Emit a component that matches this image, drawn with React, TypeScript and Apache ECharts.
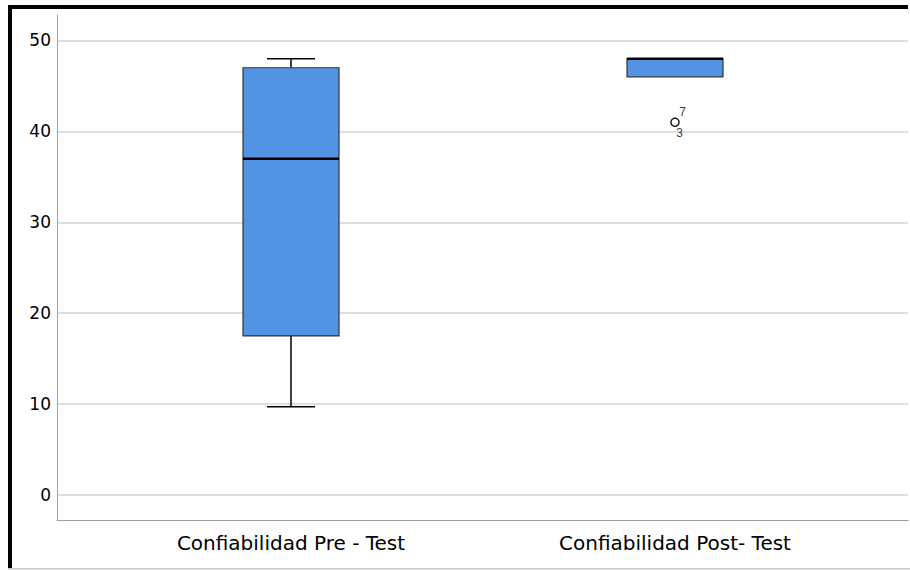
import React, { useEffect, useRef } from "react";
import * as echarts from "echarts";

const categories = ["Confiabilidad Pre - Test", "Confiabilidad Post- Test"];
// [low whisker, Q1, median, Q3, high whisker]
const boxValues = [
  [9.7, 17.5, 37, 47, 48],
  [46, 46, 48, 48, 48],
];
// outliers: [category index, value, case label]
const outliers: [number, number, string][] = [
  [1, 41, "7"],
  [1, 41, "3"],
];
const yMin = -2.75;
const yMax = 52.8;

export default function App() {
  const ref = useRef<HTMLDivElement>(null);
  useEffect(() => {
    if (!ref.current) return;
    const chart = echarts.init(ref.current, null, { renderer: "svg" });
    const boxData = boxValues.map((v, i) => [i, ...v]);
    const option = {
      animation: false,
      backgroundColor: "#ffffff",
      grid: [
        { left: 57, right: 2, top: 15, bottom: 50 },
        { left: 99, right: 43, top: 15, bottom: 50 },
      ],
      xAxis: [
        {
          type: "value",
          gridIndex: 0,
          min: 0,
          max: 1,
          axisLine: { show: true, onZero: false, lineStyle: { color: "#a0a0a0", width: 1 } },
          axisTick: { show: false },
          axisLabel: { show: false },
          splitLine: { show: false },
        },
        {
          type: "category",
          gridIndex: 1,
          data: categories,
          axisLine: { show: false },
          axisTick: { show: false },
          axisLabel: {
            show: true,
            margin: 13,
            color: "#000",
            fontFamily: "DejaVu Sans",
            fontSize: 20,
          },
          splitLine: { show: false },
        },
      ],
      yAxis: [
        {
          type: "value",
          gridIndex: 0,
          min: yMin,
          max: yMax,
          axisLine: { show: true, onZero: false, lineStyle: { color: "#a0a0a0", width: 1 } },
          axisTick: { show: false },
          axisLabel: {
            show: true,
            showMinLabel: false,
            showMaxLabel: false,
            margin: 6,
            color: "#000",
            fontFamily: "DejaVu Sans",
            fontSize: 17,
            formatter: (v: number) => (Math.abs(v % 10) < 1e-6 ? String(v) : ""),
          },
          splitLine: {
            show: true,
            showMinLine: false,
            showMaxLine: false,
            lineStyle: { color: "#d4d4d4", width: 1.5 },
          },
        },
        {
          type: "value",
          gridIndex: 1,
          min: yMin,
          max: yMax,
          show: false,
          splitLine: { show: false },
        },
      ],
      series: [
        {
          type: "custom",
          xAxisIndex: 1,
          yAxisIndex: 1,
          data: boxData,
          encode: { x: 0, y: [1, 2, 3, 4, 5] },
          renderItem: (params: any, api: any) => {
            const x = api.value(0);
            const low = api.coord([x, api.value(1)]);
            const q1 = api.coord([x, api.value(2)]);
            const med = api.coord([x, api.value(3)]);
            const q3 = api.coord([x, api.value(4)]);
            const high = api.coord([x, api.value(5)]);
            const band = api.size([1, 0])[0];
            const bw = band * 0.25;
            const cw = bw * 0.5;
            const cx = low[0];
            const line = { stroke: "#000", lineWidth: 1.5 };
            const children: any[] = [];
            if (Math.abs(q3[1] - high[1]) > 0.5) {
              children.push(
                { type: "line", shape: { x1: cx, y1: q3[1], x2: cx, y2: high[1] }, style: line },
                { type: "line", shape: { x1: cx - cw / 2, y1: high[1], x2: cx + cw / 2, y2: high[1] }, style: line }
              );
            }
            if (Math.abs(q1[1] - low[1]) > 0.5) {
              children.push(
                { type: "line", shape: { x1: cx, y1: q1[1], x2: cx, y2: low[1] }, style: line },
                { type: "line", shape: { x1: cx - cw / 2, y1: low[1], x2: cx + cw / 2, y2: low[1] }, style: line }
              );
            }
            children.push({
              type: "rect",
              shape: { x: cx - bw / 2, y: q3[1], width: bw, height: q1[1] - q3[1] },
              style: { fill: "#5293e3", stroke: "#333333", lineWidth: 1.2 },
            });
            children.push({
              type: "line",
              shape: { x1: cx - bw / 2, y1: med[1], x2: cx + bw / 2, y2: med[1] },
              style: { stroke: "#000", lineWidth: 2.5 },
            });
            return { type: "group", children };
          },
          z: 3,
        },
        {
          type: "scatter",
          xAxisIndex: 1,
          yAxisIndex: 1,
          symbol: "circle",
          symbolSize: 8,
          itemStyle: { color: "#ffffff", borderColor: "#000", borderWidth: 1.3 },
          data: outliers.map((o, i) => ({
            value: [o[0], o[1]],
            label: {
              show: true,
              formatter: o[2],
              position: i === 0 ? [9, -12] : [6, 9],
              fontSize: 12,
              fontFamily: "Liberation Sans",
              color: "#000",
            },
          })),
          z: 4,
        },
      ],
      graphic: [
        { type: "rect", shape: { x: 8, y: 5, width: 900, height: 4 }, style: { fill: "#000" }, z: 100 },
        { type: "rect", shape: { x: 8, y: 5, width: 4, height: 564 }, style: { fill: "#000" }, z: 100 },
        { type: "rect", shape: { x: 8, y: 568, width: 902, height: 1.5 }, style: { fill: "#c8c8c8" }, z: 100 },
      ],
    };
    chart.setOption(option as any);
    return () => chart.dispose();
  }, []);
  return (
    <div
      ref={ref}
      style={{ position: "fixed", left: 0, top: 0, width: 910, height: 570 }}
    />
  );
}
